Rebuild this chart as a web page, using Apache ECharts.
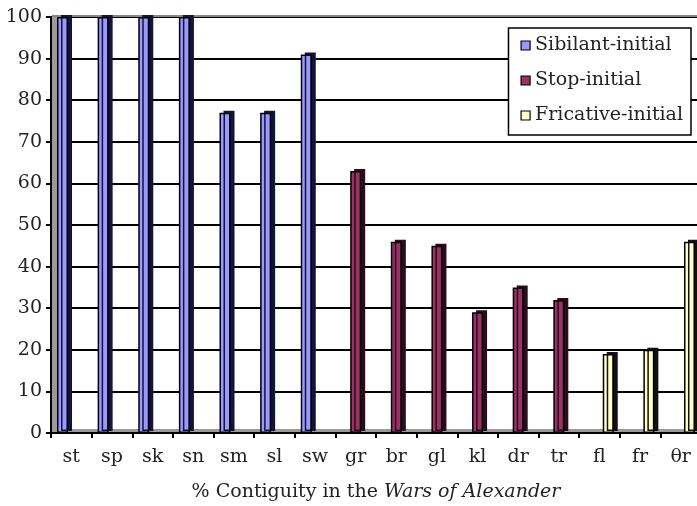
<!DOCTYPE html>
<html>
<head>
<meta charset="utf-8">
<script src="https://cdn.jsdelivr.net/npm/echarts@6/dist/echarts.min.js"></script>
<style>
  html, body { margin: 0; padding: 0; background: #fff; }
  #chart { width: 697px; height: 506px; }
</style>
</head>
<body>
<div id="chart"></div>
<script>
// clusters and their values (%)
var categories = ['st', 'sp', 'sk', 'sn', 'sm', 'sl', 'sw', 'gr', 'br', 'gl', 'kl', 'dr', 'tr', 'fl', 'fr', 'θr'];
var sibilant  = [100, 100, 100, 100, 77, 77, 91, null, null, null, null, null, null, null, null, null];
var stop      = [null, null, null, null, null, null, null, 63, 46, 45, 29, 35, 32, null, null, null];
var fricative = [null, null, null, null, null, null, null, null, null, null, null, null, null, 19, 20, 46];
var yTicks = [0, 10, 20, 30, 40, 50, 60, 70, 80, 90, 100];

var serif = "'DejaVu Serif', 'Liberation Serif', serif";
var chart = echarts.init(document.getElementById('chart'));

// fake 3D: dark side to the right and a small cap on top
function barStyle(color, side) {
  return {
    color: color,
    borderColor: '#000',
    borderWidth: 1.5,
    shadowColor: side,
    shadowBlur: 0,
    shadowOffsetX: 4,
    shadowOffsetY: -2
  };
}

var option = {
  animation: false,
  backgroundColor: '#fff',
  grid: { left: 51, top: 17, right: -4, bottom: 73, outerBoundsMode: 'none', containLabel: false },
  legend: {
    orient: 'vertical',
    right: 6,
    top: 28,
    backgroundColor: '#fff',
    borderColor: '#000',
    borderWidth: 1.5,
    borderRadius: 0,
    padding: [8, 8, 10, 12],
    itemWidth: 9,
    itemHeight: 9,
    itemGap: 16,
    icon: 'rect',
    itemStyle: { borderColor: '#000', borderWidth: 1.2, shadowColor: 'transparent' },
    textStyle: { fontFamily: serif, fontSize: 19, color: '#222', padding: [0, 0, 0, 0] },
    data: ['Sibilant-initial', 'Stop-initial', 'Fricative-initial']
  },
  xAxis: {
    type: 'category',
    data: categories,
    boundaryGap: true,
    axisLine: { lineStyle: { color: '#000', width: 2 } },
    axisTick: { show: true, interval: 0, length: 5, lineStyle: { color: '#000', width: 2 } },
    axisLabel: { interval: 0, margin: 15, fontFamily: serif, fontSize: 19, color: '#222' },
    name: '{a|% Contiguity in the }{b|Wars of Alexander}',
    nameLocation: 'middle',
    nameGap: 50,
    nameTextStyle: {
      rich: {
        a: { fontFamily: serif, fontSize: 19, color: '#222' },
        b: { fontFamily: serif, fontSize: 19, fontStyle: 'italic', color: '#222' }
      }
    }
  },
  yAxis: {
    type: 'value',
    min: yTicks[0],
    max: yTicks[yTicks.length - 1],
    interval: 10,
    axisLine: { show: true, lineStyle: { color: '#000', width: 2 } },
    axisTick: { show: true, length: 5, lineStyle: { color: '#000', width: 2 } },
    axisLabel: { margin: 9, fontFamily: serif, fontSize: 19, color: '#222' },
    splitLine: { lineStyle: { color: '#000', width: 2 } }
  },
  series: [
    {
      name: 'Sibilant-initial', type: 'bar', data: sibilant,
      barWidth: 11, barGap: '-20%',
      itemStyle: barStyle('#9999ff', '#14143a')
    },
    {
      name: 'Stop-initial', type: 'bar', data: stop,
      barWidth: 11, barGap: '-20%',
      itemStyle: barStyle('#993366', '#2a0c1c')
    },
    {
      name: 'Fricative-initial', type: 'bar', data: fricative,
      barWidth: 11, barGap: '-20%',
      itemStyle: barStyle('#ffffcc', '#111')
    }
  ]
};
chart.setOption(option);

// gray back wall on the left and floor, placed from the axes
var p0 = chart.convertToPixel({ gridIndex: 0 }, [0, 0]);
var pTop = chart.convertToPixel({ gridIndex: 0 }, [0, 100]);
var xLeft = 52;
chart.setOption({
  graphic: [
    { type: 'rect', z: 0, shape: { x: xLeft, y: pTop[1], width: 5, height: p0[1] - pTop[1] }, style: { fill: '#9a9a9a' } },
    { type: 'rect', z: 0, shape: { x: xLeft, y: p0[1] - 4, width: 697 - xLeft, height: 4 }, style: { fill: '#9a9a9a' } },
    { type: 'line', z: 0, shape: { x1: xLeft, y1: pTop[1] - 1, x2: 697, y2: pTop[1] - 1 }, style: { stroke: '#888', lineWidth: 2 } }
  ]
});
</script>
</body>
</html>
